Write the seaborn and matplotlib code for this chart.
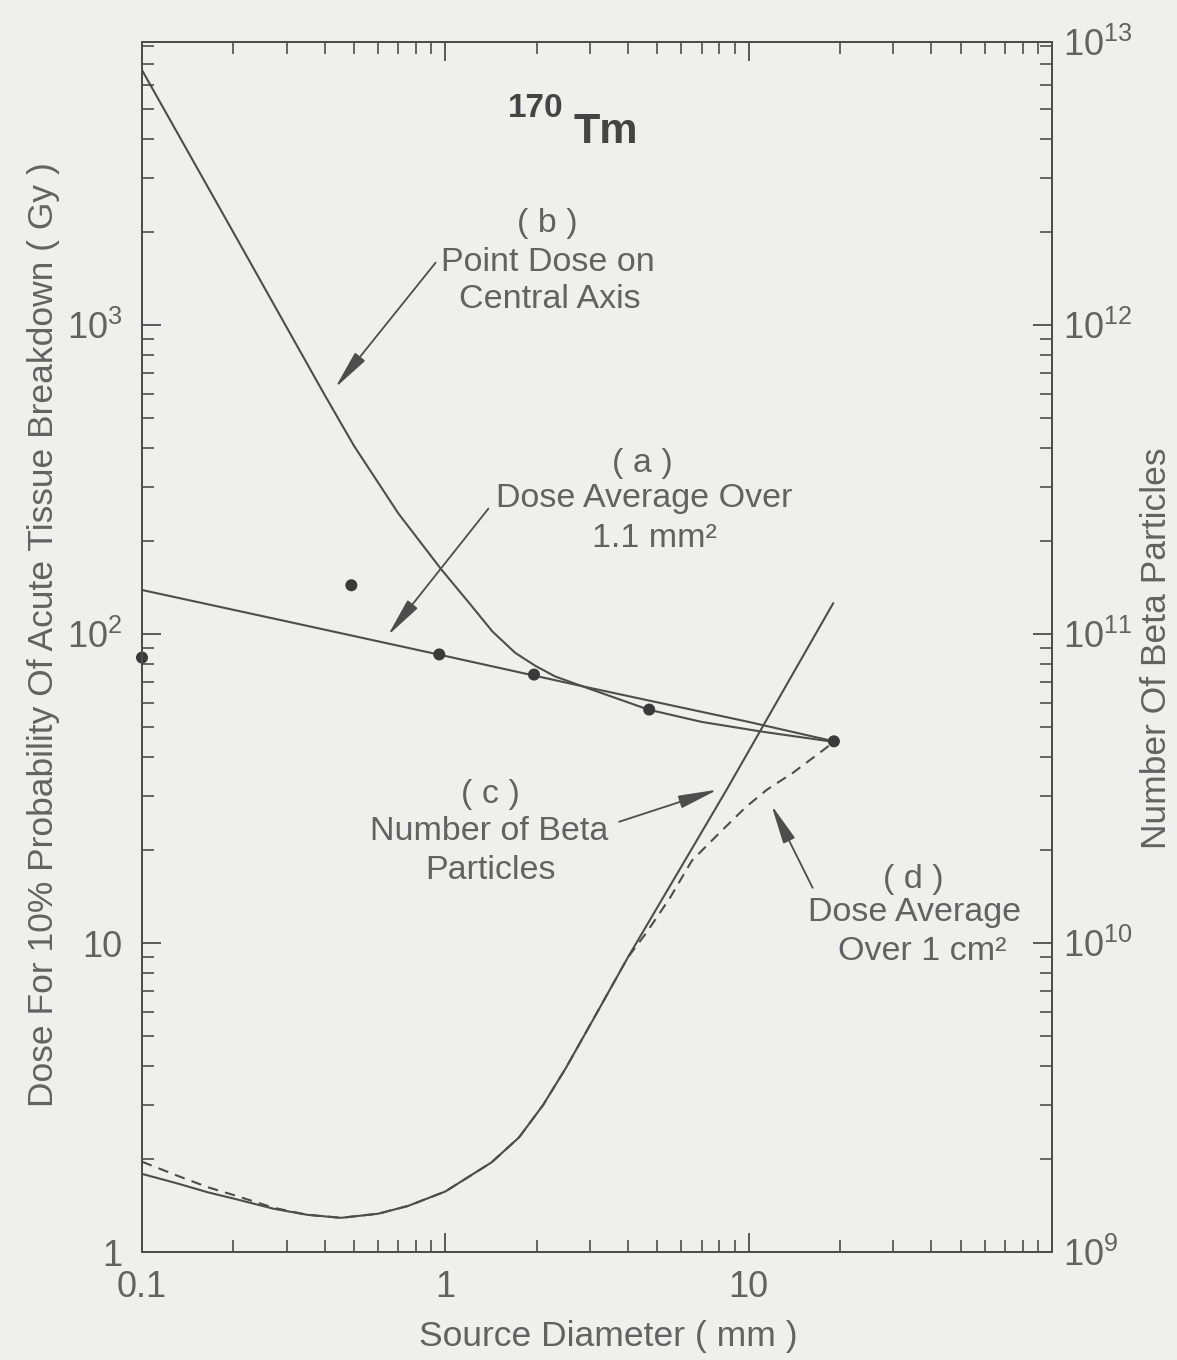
import numpy as np
import pandas as pd
import matplotlib
matplotlib.use("Agg")
import matplotlib.pyplot as plt
from matplotlib import font_manager as fm
from matplotlib.ticker import FixedLocator, FixedFormatter, LogLocator, NullFormatter
import seaborn as sns

# ---------------- data ----------------
# (b) point dose on central axis  [Gy]
diam_b = [0.1, 0.2, 0.40, 0.5, 0.7, 0.97, 1.2, 1.43, 1.7, 1.98, 2.3, 2.75, 3.5, 4.67, 7.0, 11.0, 19.1]
dose_b = [6700, 2000, 595, 407, 246, 162, 126, 102, 87, 79, 73, 68.5, 63, 57, 52, 48.4, 44.8]

# (a) dose average over 1.1 mm^2  [Gy]
diam_a = [0.1, 0.3, 1.0, 3.0, 10.0, 19.1]
dose_a = [139, 110, 85, 67, 52, 45]

# calculated points
diam_pts = [0.1, 0.49, 0.955, 1.96, 4.7, 19.1]
dose_pts = [84, 144, 86, 74, 57, 45]

# (c) number of beta particles (right axis)
diam_c = [0.1, 0.13, 0.165, 0.2, 0.272, 0.35, 0.453, 0.6, 0.754, 1.0, 1.42, 1.75,
          2.1, 2.5, 3.1, 4.0, 8.4, 19.0]
num_c = [1.79e9, 1.67e9, 1.56e9, 1.49e9, 1.38e9, 1.32e9, 1.29e9, 1.33e9, 1.41e9,
         1.57e9, 1.95e9, 2.35e9, 2.99e9, 3.95e9, 5.75e9, 9.0e9, 3.1e10, 1.26e11]

# (d) dose average over 1 cm^2 [Gy]
diam_d = [0.1, 0.13, 0.165, 0.2, 0.272, 0.35, 0.453, 0.6, 0.754, 1.0, 1.42, 1.75,
          2.1, 2.5, 3.1, 4.0, 4.6, 5.5, 6.5, 8.0, 9.8, 11.5, 14.0, 17.7, 19.1]
dose_d = [1.96, 1.77, 1.62, 1.53, 1.39, 1.32, 1.29, 1.33, 1.41, 1.57, 1.95, 2.35,
          2.99, 3.95, 5.75, 9.0, 10.8, 14.0, 18.5, 22.7, 27.6, 31.4, 35.6, 42.3, 44.8]

x_ticks = [0.1, 1, 10, 100]
x_ticklabels = ["0.1", "1", "10", ""]
yl_ticks = [1, 10, 100, 1000]
yl_ticklabels = ["1", "10", r"$10^2$", r"$10^3$"]
yr_ticklabels = [r"$10^9$", r"$10^{10}$", r"$10^{11}$", r"$10^{12}$", r"$10^{13}$"]

# ---------------- style ----------------
W, H = 1177, 1360
names = {f.name for f in fm.fontManager.ttflist}
FONT = "Liberation Sans" if "Liberation Sans" in names else "DejaVu Sans"

sns.set_theme(style="ticks")
BG = "#efefed"
LC = "#4d4d4d"
TC = "#626262"
plt.rcParams["font.family"] = [FONT, "DejaVu Sans"]
plt.rcParams["mathtext.fontset"] = "custom"
plt.rcParams["mathtext.rm"] = FONT
plt.rcParams["mathtext.it"] = FONT
plt.rcParams["mathtext.bf"] = FONT + ":bold"

fig = plt.figure(figsize=(W / 100, H / 100), dpi=100, facecolor=BG)
L, R, T, B = 142, 1052, 42, 1252
ax = fig.add_axes([L / W, 1 - B / H, (R - L) / W, (B - T) / H], facecolor=BG)
ax.set_xscale("log")
ax.set_yscale("log")
ax.set_xlim(0.1, 100)
YTOP_DEC = 3.917
ax.set_ylim(1, 10 ** YTOP_DEC)

ax2 = ax.twinx()
ax2.set_yscale("log")
ax2.set_ylim(1e9, 10 ** (9 + YTOP_DEC))

df_b = pd.DataFrame({"d": diam_b, "v": dose_b})
df_a = pd.DataFrame({"d": diam_a, "v": dose_a})
df_c = pd.DataFrame({"d": diam_c, "v": num_c})
df_d = pd.DataFrame({"d": diam_d, "v": dose_d})
df_p = pd.DataFrame({"d": diam_pts, "v": dose_pts})

lw = 1.5
sns.lineplot(data=df_b, x="d", y="v", ax=ax, color=LC, lw=lw, sort=False, estimator=None)
sns.lineplot(data=df_a, x="d", y="v", ax=ax, color=LC, lw=lw, sort=False, estimator=None)
sns.lineplot(data=df_d, x="d", y="v", ax=ax, color=LC, lw=lw, sort=False, estimator=None,
             linestyle=(0, (5, 3.5)))
sns.scatterplot(data=df_p, x="d", y="v", ax=ax, color="#3a3a3a", s=75, edgecolor="none",
                zorder=6, clip_on=False)
sns.lineplot(data=df_c, x="d", y="v", ax=ax2, color=LC, lw=lw, sort=False, estimator=None)

# ---------------- axes / ticks ----------------
for a in (ax, ax2):
    for s in a.spines.values():
        s.set_color(LC)
        s.set_linewidth(1.4)

ax.xaxis.set_major_locator(FixedLocator(x_ticks))
ax.xaxis.set_major_formatter(FixedFormatter(x_ticklabels))
ax.xaxis.set_minor_locator(LogLocator(base=10, subs=np.arange(2, 10)))
ax.xaxis.set_minor_formatter(NullFormatter())
ax.yaxis.set_major_locator(FixedLocator(yl_ticks))
ax.yaxis.set_major_formatter(FixedFormatter(yl_ticklabels))
ax.yaxis.set_minor_locator(LogLocator(base=10, subs=np.arange(2, 10)))
ax.yaxis.set_minor_formatter(NullFormatter())

yr_ticks = [1e9, 1e10, 1e11, 1e12, 10 ** (9 + YTOP_DEC)]
ax2.yaxis.set_major_locator(FixedLocator(yr_ticks))
ax2.yaxis.set_major_formatter(FixedFormatter(yr_ticklabels))
ax2.yaxis.set_minor_locator(LogLocator(base=10, subs=np.arange(2, 10)))
ax2.yaxis.set_minor_formatter(NullFormatter())

FS_T = 26
ax.tick_params(axis="x", which="both", direction="in", top=True, bottom=True,
               color=LC, labelcolor=TC, labelsize=FS_T, pad=13)
ax.tick_params(axis="y", which="both", direction="in", left=True, right=False,
               color=LC, labelcolor=TC, labelsize=FS_T, pad=14)
ax2.tick_params(axis="y", which="both", direction="in", right=True, left=False,
                color=LC, labelcolor=TC, labelsize=FS_T, pad=8)
for a in (ax, ax2):
    a.tick_params(which="major", length=14, width=1.3)
    a.tick_params(which="minor", length=8.5, width=1.2)

FS_L = 25.5
ax.set_xlabel("Source Diameter ( mm )", fontsize=FS_L, color=TC)
ax.xaxis.set_label_coords((608 - L) / (R - L), -(1320 - B) / (B - T))
ax.set_ylabel("Dose For 10% Probability Of Acute Tissue Breakdown ( Gy )", fontsize=FS_L, color=TC)
ax.yaxis.set_label_coords(-(L - 60) / (R - L), (B - 635) / (B - T))
ax2.set_ylabel("Number Of Beta Particles", fontsize=FS_L, color=TC)
ax2.yaxis.set_label_coords(1 + (1140 - R) / (R - L), (B - 648) / (B - T))

# ---------------- annotations ----------------
def fpos(px, py):
    return px / W, 1 - py / H

FS_A = 24.5
blocks = [
    (547, 232, "( b )"), (548, 271, "Point Dose on"), (550, 308, "Central Axis"),
    (642, 472, "( a )"), (644, 507, "Dose Average Over"), (654, 547, "1.1 mm²"),
    (490, 803, "( c )"), (489, 840, "Number of Beta"), (491, 879, "Particles"),
    (913, 888, "( d )"), (915, 921, "Dose Average"), (922, 960, "Over 1 cm²"),
]
for px, py, s in blocks:
    fig.text(*fpos(px, py), s, ha="center", va="baseline", fontsize=FS_A, color=TC)

fig.text(*fpos(564, 117), "170", ha="right", va="baseline", fontsize=24,
         fontweight="bold", color="#444444")
fig.text(*fpos(574, 143), "Tm", ha="left", va="baseline", fontsize=31,
         fontweight="bold", color="#444444")

arrows = [
    ((0.433, 627), (0.929, 1595)),
    ((0.646, 99), (1.387, 255)),
    ((7.91, 31.4), (3.74, 24.7)),
    ((11.88, 28.0), (16.25, 15.1)),
]
for tip, tail in arrows:
    ax.annotate("", xy=tip, xytext=tail, xycoords="data", textcoords="data",
                arrowprops=dict(arrowstyle="-|>,head_length=1.1,head_width=0.18",
                                mutation_scale=22, lw=1.3, color=LC,
                                shrinkA=0, shrinkB=0))

fig.savefig("out.png", dpi=100, facecolor=BG)
